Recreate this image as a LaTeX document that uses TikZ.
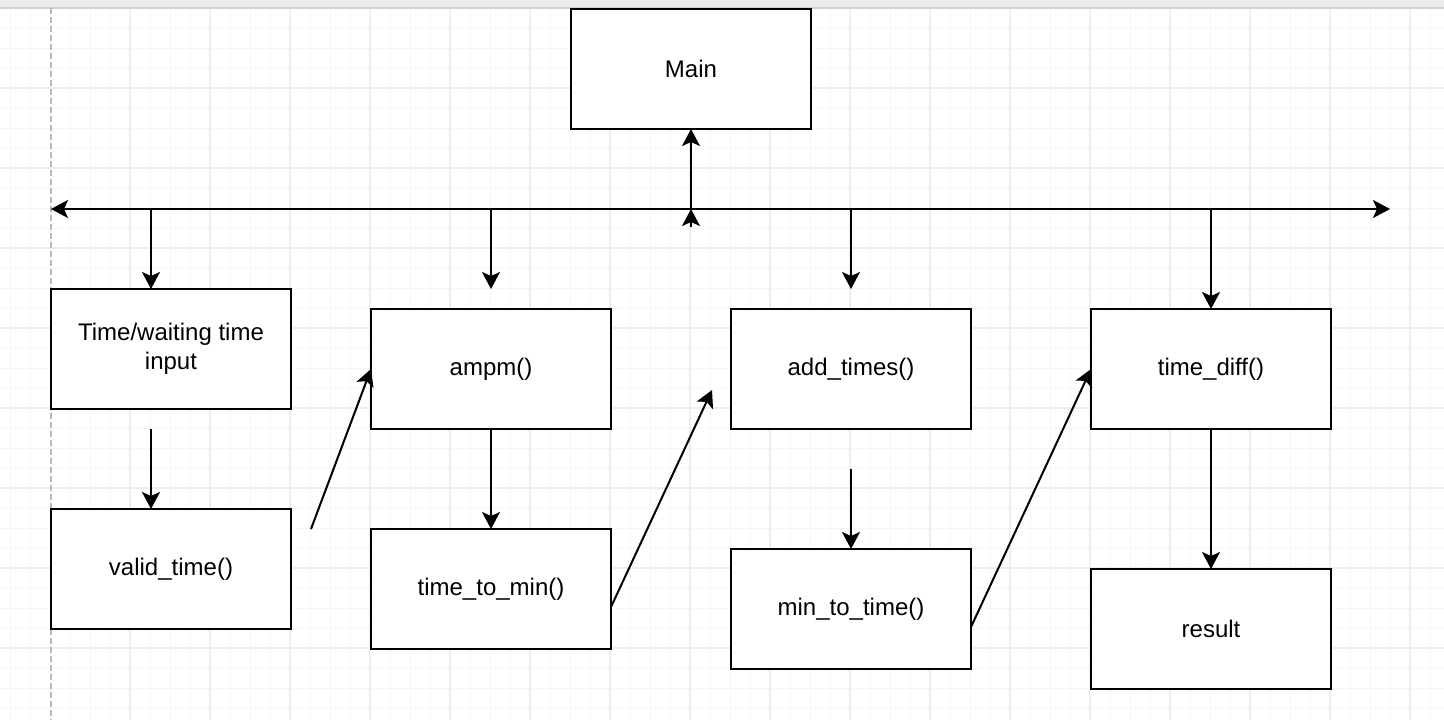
\documentclass[tikz,border=0pt]{standalone}
\usepackage{fontspec}
\setmainfont{Liberation Sans}
\usetikzlibrary{arrows.meta, positioning}

\begin{document}
\begin{tikzpicture}[x=1pt, y=-1pt]
    \tikzset{
        node/.style = {rectangle, draw=black, fill=white, line width=2pt, outer sep=0pt, inner sep=0pt, minimum width=240pt, minimum height=120pt, align=center, font=\fontsize{24}{29}\selectfont},
        line/.style = {draw=black, line width=2pt, ->},
        minor/.style = {draw=gray!7, line width=1pt},
        major/.style = {draw=gray!14, line width=1.5pt},
        >={Stealth[length=17pt, width=18pt, inset=4pt]},
    }
    % background grid
    \useasboundingbox (0,0) rectangle (1444,720);
    \fill[white] (0,0) rectangle (1444,720);
    \foreach \x in {10,30,...,1430} \path[minor] (\x,8) -- (\x,720);
    \foreach \y in {28,48,...,708} \path[minor] (0,\y) -- (1444,\y);
    \foreach \x in {130,210,...,1410} \path[major] (\x,8) -- (\x,720);
    \foreach \y in {88,168,...,648} \path[major] (0,\y) -- (1444,\y);
    \fill[gray!15] (0,0) rectangle (1444,8);
    \draw[gray!35, line width=1.5pt] (0,8) -- (1444,8);
    \draw[gray!55, line width=1.5pt, dash pattern=on 6pt off 3pt] (51,8) -- (51,720);

    \node[node](main) at (691,69) {Main};
    
    \node[node](input) at (171,349) {Time/waiting time\\input};
    
    \node[node](ampm)[right=80pt of input, yshift=-20pt]{ampm()};
    
    \node[node](addtimes)[right=120pt of ampm]{add\_times()};
    
    \node[node](timediff)[right=120pt of addtimes]{time\_diff()};
    
    \node[node](valid)[below=100pt of input]{valid\_time()};
    
    \node[node](tomin)[below=100pt of ampm]{time\_to\_min()};
    
    \node[node](totime)[below=120pt of addtimes]{min\_to\_time()};
    
    \node[node](result)[below=140pt of timediff]{result};
    
    \coordinate (busL) at (51,209);
    \coordinate (busR) at (1390,209);
    \coordinate (busM) at (691,209);
    \coordinate (tipM) at (691,227);
    \coordinate (ampmIn) at (491,289);
    \coordinate (addIn) at (851,289);
    \coordinate (inputOut) at (151,429);
    \coordinate (totimeIn) at (851,469);
    \coordinate (validOut) at (311,529);
    \coordinate (addIn2) at (712,390);
    
    \path [line, <->] (busL) -- (busR);
    \path [line] (busM) -- (main.south);
    \path [line] (tipM) -- (busM);
    \path [line] ([xshift=-20pt]input.north |- busM) -- ([xshift=-20pt]input.north);
    \path [line] (ampm.north |- busM) -- (ampmIn);
    \path [line] (addtimes.north |- busM) -- (addIn);
    \path [line] (timediff.north |- busM) -- (timediff.north);
    \path [line] (inputOut) -- ([xshift=-20pt]valid.north);
    \path [line] (ampm) -- (tomin);
    \path [line] (totimeIn) -- (totime.north);
    \path [line] (timediff) -- (result);
    \path [line] (validOut) -- (ampm.west);
    \path [line] ([yshift=-18pt]tomin.east) -- (addIn2);
    \path [line] ([yshift=-18pt]totime.east) -- (timediff.west);

\end{tikzpicture}
\end{document}
